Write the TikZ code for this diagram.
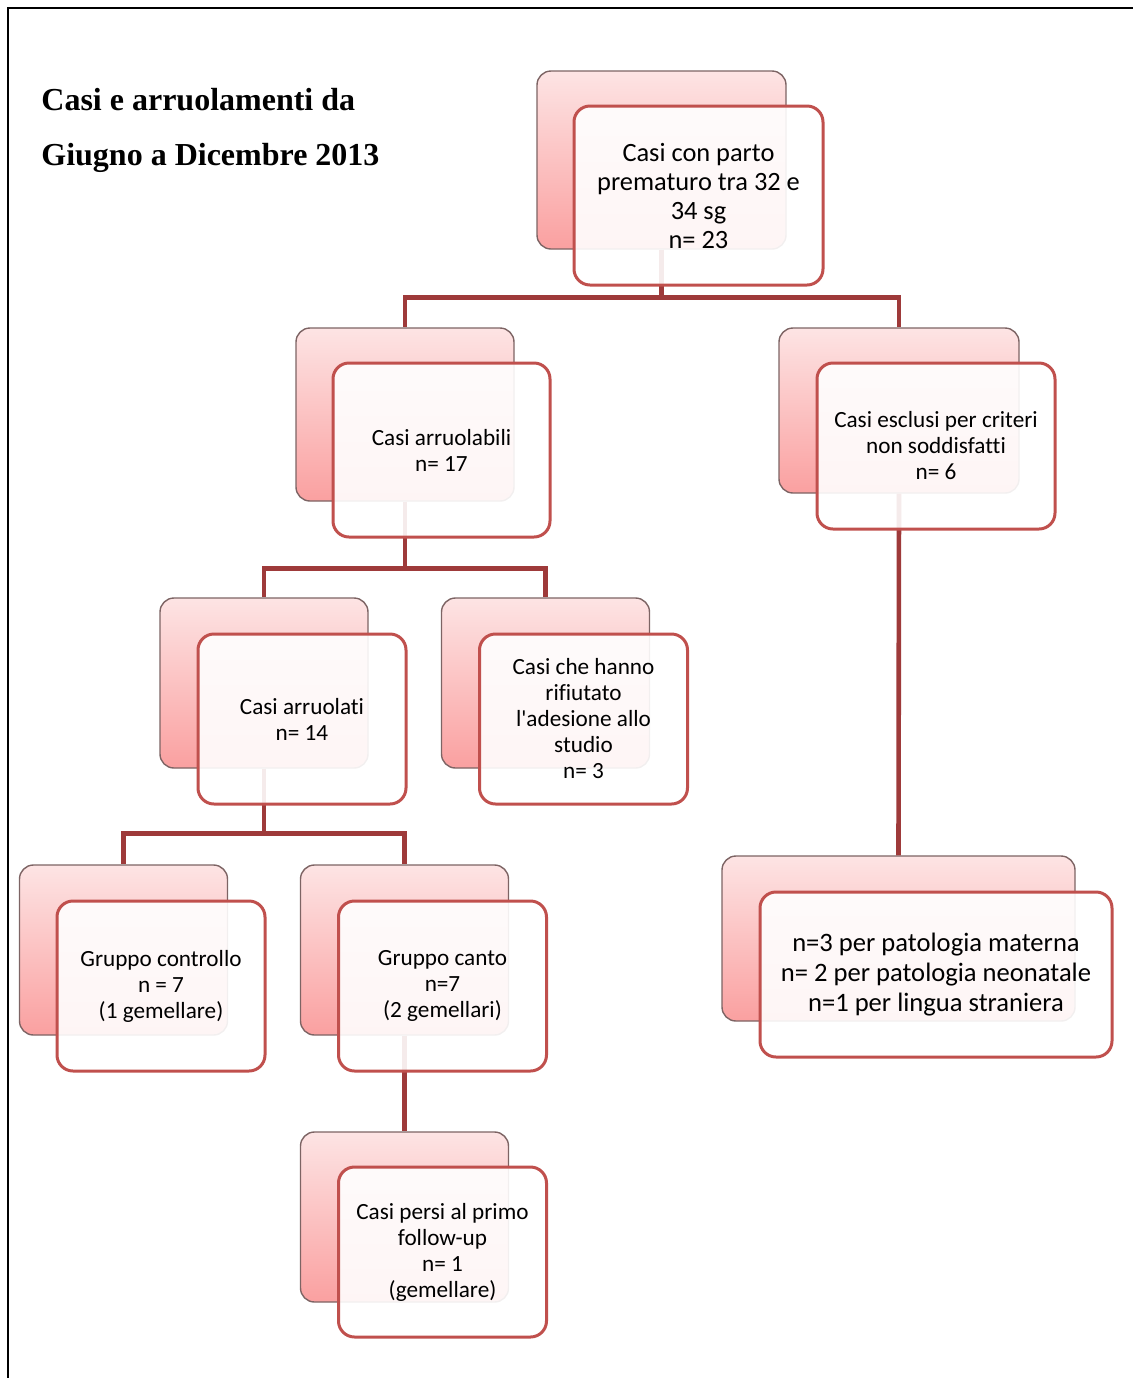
\documentclass[tikz,border=0pt]{standalone}
\usepackage{fontspec}
\setmainfont{Carlito}[Ligatures={NoCommon,NoContextual,NoRequired}]
\newfontfamily\titlefont{Liberation Serif}
\usepackage{tikz}

\definecolor{boxred}{RGB}{192,80,77}
\definecolor{linkred}{RGB}{158,58,58}
\definecolor{pinktop}{RGB}{253,228,228}
\definecolor{pinkbot}{RGB}{250,160,160}
\definecolor{backline}{RGB}{125,100,100}

\begin{document}
\begin{tikzpicture}[x=0.5pt, y=-0.5pt,
    back/.style={draw=backline, line width=0.7pt, rounded corners=7pt,
      top color=pinktop, bottom color=pinkbot, minimum width=#1, minimum height=85pt, inner sep=0pt},
    back/.default=104pt,
    front/.style={draw=boxred, line width=1.5pt, rounded corners=8pt, fill=white,
      fill opacity=0.9, text opacity=1, align=center, minimum width=#1, minimum height=85pt,
      inner sep=0pt, font=\fontsize{11.6}{13}\selectfont},
    front/.default=104pt,
    link/.style={draw=linkred, line width=2.3pt}]
    \useasboundingbox (0,0) rectangle (1133,1378);
    % frame
    \draw[line width=1pt] (8,1378) -- (8,8) -- (1133,8);
    % title
    \node[anchor=base west, inner sep=0pt, font=\titlefont\bfseries\fontsize{16}{20}\selectfont] (title1) at (41,110) {Casi e arruolamenti da};
    \node[anchor=base west, inner sep=0pt, font=\titlefont\bfseries\fontsize{16}{20}\selectfont] (title2) at (41,165) {Giugno a Dicembre 2013};

    % back boxes
    \node[back=124.5pt, minimum height=89pt] (topb) at (661.5,160) {};
    \node[back=109pt, minimum height=86.5pt] (arbb) at (405,414.5) {};
    \node[back=120pt, minimum height=82.5pt] (escb) at (899,410.5) {};
    \node[back] (arrb) at (264,683) {};
    \node[back] (rifb) at (545.5,683) {};
    \node[back] (conb) at (123.5,950) {};
    \node[back] (canb) at (404.5,950) {};
    \node[back] (perb) at (404.5,1217) {};
    \node[back=176.5pt, minimum height=82.5pt] (patb) at (898.5,938.5) {};

    % connectors
    \draw[link] (topb.south) -- ++(0,48) -| (arbb.north);
    \draw[link] (topb.south) -- ++(0,48) -| (escb.north);
    \draw[link] (arbb.south) -- ++(0,67) -| (arrb.north);
    \draw[link] (arbb.south) -- ++(0,67) -| (rifb.north);
    \draw[link] (arrb.south) -- ++(0,65) -| (conb.north);
    \draw[link] (arrb.south) -- ++(0,65) -| (canb.north);
    \draw[link] (escb.south) -- (patb.north);
    \draw[link] (canb.south) -- (perb.north);

    % front boxes
    \node[front=124.5pt, minimum height=89.5pt, font=\fontsize{13.2}{14.5}\selectfont] (topf) at (698.5,195.5)
      {Casi con parto\\prematuro tra 32 e\\34 sg\\n= 23};
    \node[front=108.5pt, minimum height=87pt] (arbf) at (441.5,450) {Casi arruolabili\\n= 17};
    \node[front=119pt, minimum height=83pt] (escf) at (936,446) {Casi esclusi per criteri\\non soddisfatti\\n= 6};
    \node[front] (arrf) at (302,719) {Casi arruolati\\n= 14};
    \node[front] (riff) at (583.5,719) {Casi che hanno\\rifiutato\\l\textquotesingle adesione allo\\studio\\n= 3};
    \node[front] (conf) at (161,986) {Gruppo controllo\\n = 7\\(1 gemellare)};
    \node[front] (canf) at (442.5,986) {Gruppo canto\\n=7\\(2 gemellari)};
    \node[front] (perf) at (442.5,1252) {Casi persi al primo\\follow-up\\n= 1\\(gemellare)};
    \node[front=176pt, minimum height=82.5pt, font=\fontsize{13.3}{14.8}\selectfont] (patf) at (936,974.5)
      {n=3 per patologia materna\\n= 2 per patologia neonatale\\n=1 per lingua straniera};
\end{tikzpicture}
\end{document}
